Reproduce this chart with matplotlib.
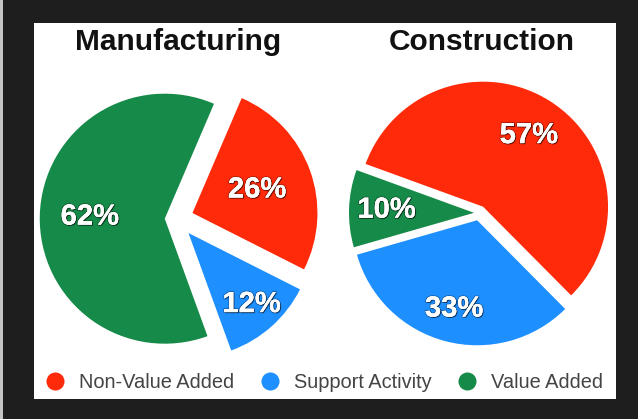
import matplotlib
matplotlib.use("Agg")
import matplotlib.pyplot as plt
import matplotlib.patheffects as pe
from matplotlib.patches import Rectangle
from matplotlib.lines import Line2D
import numpy as np

plt.rcParams['font.family'] = ['Liberation Sans', 'DejaVu Sans']

categories = ["Non-Value Added", "Support Activity", "Value Added"]
colors = ["#FF2A0A", "#1E8FFF", "#168A48"]
titles = ["Manufacturing", "Construction"]
manufacturing = [26, 12, 62]
construction = [57, 33, 10]

W, H = 638, 419
fig = plt.figure(figsize=(W / 100, H / 100), dpi=100)
fig.patch.set_facecolor("#1e1e1e")

def fx(px):
    return px / W

def fy(py):
    return 1 - py / H

# left light strip & white panel
fig.patches.append(Rectangle((0, 0), fx(3), 1, transform=fig.transFigure,
                             facecolor="#c4c4c4", edgecolor="none", zorder=-10))
fig.patches.append(Rectangle((fx(34), fy(399)), fx(616) - fx(34), fy(23) - fy(399),
                             transform=fig.transFigure, facecolor="white",
                             edgecolor="none", zorder=-10))

R = 125  # pixels per unit radius
half = 160

def make_pie(cx, cy, values, startangle, explode, label_dist):
    ax = fig.add_axes([fx(cx - half), fy(cy + half), 2 * half / W, 2 * half / H])
    ax.patch.set_alpha(0)
    wedges, _ = ax.pie(values, colors=colors, startangle=startangle,
                       counterclock=False, explode=explode, radius=1,
                       wedgeprops=dict(linewidth=0))
    ax.set_xlim(-half / R, half / R)
    ax.set_ylim(-half / R, half / R)
    ax.axis("off")
    total = sum(values)
    for w, v, d in zip(wedges, values, label_dist):
        ang = np.deg2rad((w.theta1 + w.theta2) / 2)
        x0, y0 = w.center
        ax.text(x0 + d * np.cos(ang), y0 + d * np.sin(ang),
                f"{round(100 * v / total)}%", ha="center", va="center",
                color="white", fontsize=21, fontweight="bold",
                path_effects=[pe.withSimplePatchShadow(offset=(0.8, -0.8),
                                                       shadow_rgbFace="black", alpha=0.45),
                              pe.withStroke(linewidth=1.5, foreground=(0, 0, 0, 0.3)),
                              pe.Normal()])
    return ax

make_pie(176, 219, manufacturing, 66.8, [0.14, 0.15, 0.09], [0.55, 0.76, 0.6])
make_pie(479, 213, construction, 160, [0.06, 0.06, 0.04], [0.68, 0.73, 0.7])

fig.text(fx(178), fy(42), titles[0], ha="center", va="center",
         fontsize=21.5, fontweight="bold", color="#111111")
fig.text(fx(482), fy(42), titles[1], ha="center", va="center",
         fontsize=21.5, fontweight="bold", color="#111111")

handles = [Line2D([], [], marker="o", linestyle="none", markersize=13,
                  markerfacecolor=c, markeredgecolor="none") for c in colors]
leg = fig.legend(handles, categories, ncol=3, loc="center",
                 bbox_to_anchor=(fx(324), fy(382)), frameon=False,
                 fontsize=14.4, handletextpad=0.7, columnspacing=1.3,
                 handlelength=1.0, labelcolor="#444444")

fig.savefig("out.png", dpi=100, facecolor=fig.get_facecolor())
